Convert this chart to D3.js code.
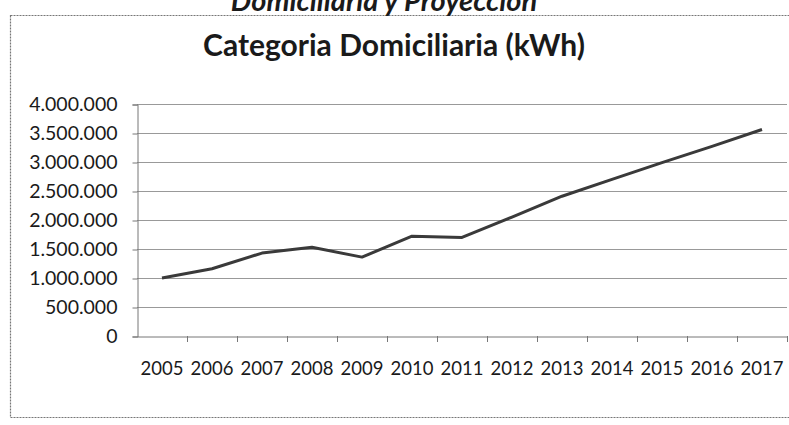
<!DOCTYPE html>
<html>
<head>
  <meta charset="utf-8">
  <title>Categoria Domiciliaria (kWh)</title>
  <script src="https://d3js.org/d3.v7.min.js"></script>
  <style>
    body { margin: 0; background: #fff; }
    text { font-family: Lato, "Open Sans", sans-serif; fill: #1a1a1a; }
  </style>
</head>
<body>
  <div id="vis"></div>
  <script>
    const width = 789
    const height = 425

    // data
    const years = ["2005", "2006", "2007", "2008", "2009", "2010", "2011",
                   "2012", "2013", "2014", "2015", "2016", "2017"]
    const consumo = [1000000, 1160000, 1430000, 1530000, 1360000, 1720000, 1700000,
                     2050000, 2410000, 2700000, 2990000, 3270000, 3560000]
    const yTicks = [0, 500000, 1000000, 1500000, 2000000, 2500000, 3000000, 3500000, 4000000]

    const margin = { top: 104, right: 2, bottom: 89, left: 137 }

    const locale = d3.formatLocale({ decimal: ",", thousands: ".", grouping: [3], currency: ["", ""] })
    const fmt = locale.format(",d")

    const svg = d3.select("#vis")
      .append("svg")
      .attr("width", width)
      .attr("height", height)

    // outer chart border (dotted, as in the scan)
    svg.append("rect")
      .attr("x", 10.5).attr("y", 15.5)
      .attr("width", 790).attr("height", 402)
      .attr("fill", "none")
      .attr("stroke", "#777")
      .attr("stroke-width", 1.2)
      .attr("stroke-dasharray", "2,1")

    // heading of the page, cut off at the top in the scan
    svg.append("text")
      .attr("x", 384).attr("y", 11)
      .attr("text-anchor", "middle")
      .style("font-size", "29px")
      .style("font-weight", "bold")
      .style("font-style", "italic")
      .text("Domiciliaria y Proyección")

    svg.append("text")
      .attr("x", 394).attr("y", 56)
      .attr("text-anchor", "middle")
      .style("font-size", "30px")
      .style("font-weight", "bold")
      .text("Categoria Domiciliaria (kWh)")

    const x = d3.scaleBand()
      .domain(years)
      .range([margin.left, width - margin.right])
      .padding(0)

    const y = d3.scaleLinear()
      .domain([0, 4000000])
      .range([height - margin.bottom, margin.top])

    // gridlines
    svg.append("g")
      .selectAll("line")
      .data(yTicks.filter(d => d > 0))
      .enter()
      .append("line")
      .attr("x1", margin.left)
      .attr("x2", width - margin.right)
      .attr("y1", d => y(d) + 0.5)
      .attr("y2", d => y(d) + 0.5)
      .attr("stroke", "#999")
      .attr("stroke-width", 1)

    // y axis
    const yAxis = svg.append("g")
      .attr("transform", `translate(${margin.left + 0.5},0.5)`)
      .call(d3.axisLeft(y).tickValues(yTicks).tickFormat(fmt).tickSize(5).tickPadding(15))
    yAxis.select(".domain").attr("stroke", "#777")
    yAxis.selectAll(".tick line").attr("stroke", "#777")
    yAxis.selectAll("text")
      .style("font-size", "19.5px")
      .attr("fill", "#1a1a1a")

    // x axis
    const xAxis = svg.append("g")
      .attr("transform", `translate(0,${y(0) + 0.5})`)
      .call(d3.axisBottom(x).tickSize(0).tickPadding(25))
    xAxis.select(".domain").attr("stroke", "#777")
    xAxis.selectAll("text")
      .style("font-size", "18.5px")
      .attr("fill", "#1a1a1a")

    // tick marks on category boundaries
    svg.append("g")
      .selectAll("line")
      .data(years)
      .enter()
      .append("line")
      .attr("x1", d => Math.round(x(d) + x.bandwidth()) + 0.5)
      .attr("x2", d => Math.round(x(d) + x.bandwidth()) + 0.5)
      .attr("y1", y(0))
      .attr("y2", y(0) + 6)
      .attr("stroke", "#777")

    const line = d3.line()
      .x((d, i) => x(years[i]) + x.bandwidth() / 2)
      .y(d => y(d))

    svg.append("path")
      .datum(consumo)
      .attr("d", line)
      .attr("fill", "none")
      .attr("stroke", "#3a3a3a")
      .attr("stroke-width", 3)
      .attr("stroke-linejoin", "round")
  </script>
</body>
</html>
